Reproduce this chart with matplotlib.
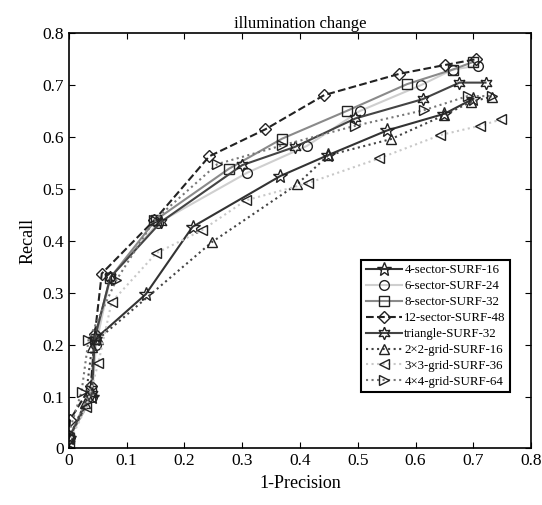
import matplotlib
matplotlib.use("Agg")
import matplotlib.pyplot as plt
from matplotlib.ticker import FuncFormatter

plt.rcParams["font.family"] = ["Liberation Serif", "DejaVu Serif"]

# 1-Precision (x) and Recall (y) for each descriptor
x_4sector = [0.0, 0.04, 0.045, 0.133, 0.214, 0.366, 0.448, 0.551, 0.650, 0.700]
y_4sector = [0.02, 0.10, 0.21, 0.297, 0.427, 0.525, 0.565, 0.613, 0.645, 0.674]

x_6sector = [0.0, 0.04, 0.047, 0.072, 0.155, 0.308, 0.412, 0.503, 0.609, 0.664, 0.708]
y_6sector = [0.02, 0.10, 0.20, 0.33, 0.435, 0.531, 0.583, 0.650, 0.700, 0.730, 0.738]

x_8sector = [0.0, 0.038, 0.045, 0.071, 0.150, 0.277, 0.369, 0.482, 0.585, 0.664, 0.700]
y_8sector = [0.02, 0.11, 0.21, 0.328, 0.440, 0.539, 0.597, 0.651, 0.702, 0.730, 0.745]

x_12sector = [0.0, 0.002, 0.038, 0.045, 0.057, 0.148, 0.243, 0.340, 0.442, 0.572, 0.651, 0.704]
y_12sector = [0.02, 0.055, 0.12, 0.22, 0.337, 0.440, 0.563, 0.615, 0.681, 0.722, 0.739, 0.750]

x_triangle = [0.0, 0.04, 0.045, 0.072, 0.160, 0.300, 0.391, 0.496, 0.612, 0.676, 0.721]
y_triangle = [0.02, 0.105, 0.215, 0.33, 0.437, 0.546, 0.581, 0.636, 0.673, 0.705, 0.705]

x_2x2 = [0.0, 0.028, 0.040, 0.050, 0.248, 0.395, 0.449, 0.557, 0.649, 0.696, 0.732]
y_2x2 = [0.02, 0.087, 0.195, 0.21, 0.398, 0.509, 0.565, 0.596, 0.642, 0.668, 0.678]

x_3x3 = [0.0, 0.03, 0.051, 0.074, 0.151, 0.231, 0.306, 0.413, 0.537, 0.643, 0.712, 0.748]
y_3x3 = [0.01, 0.08, 0.164, 0.282, 0.376, 0.421, 0.478, 0.511, 0.559, 0.604, 0.622, 0.634]

x_4x4 = [0.0, 0.022, 0.034, 0.082, 0.148, 0.257, 0.369, 0.496, 0.615, 0.690, 0.732]
y_4x4 = [0.03, 0.109, 0.209, 0.324, 0.440, 0.548, 0.584, 0.622, 0.652, 0.679, 0.679]

star6 = (6, 1, 0)
series = [
    (x_4sector, y_4sector, "4-sector-SURF-16", "#333333", "-", "*"),
    (x_6sector, y_6sector, "6-sector-SURF-24", "#cfcfcf", "-", "o"),
    (x_8sector, y_8sector, "8-sector-SURF-32", "#8a8a8a", "-", "s"),
    (x_12sector, y_12sector, "12-sector-SURF-48", "#222222", "--", "D"),
    (x_triangle, y_triangle, "triangle-SURF-32", "#444444", "-", star6),
    (x_2x2, y_2x2, "2\u00d72-grid-SURF-16", "#444444", ":", "^"),
    (x_3x3, y_3x3, "3\u00d73-grid-SURF-36", "#c8c8c8", ":", "<"),
    (x_4x4, y_4x4, "4\u00d74-grid-SURF-64", "#777777", ":", ">"),
]

fig = plt.figure(figsize=(5.42, 5.05), dpi=100)
ax = fig.add_axes([0.127, 0.112, 0.853, 0.822])

for xs, ys, label, color, ls, marker in series:
    ms = 7
    if marker == "*":
        ms = 10
    elif marker == star6:
        ms = 9
    elif marker == "D":
        ms = 6
    ax.plot(xs, ys, linestyle=ls, color=color, linewidth=1.5,
            marker=marker, markersize=ms, markerfacecolor="none",
            markeredgecolor="#222222", markeredgewidth=1.0, label=label)

ax.set_xlim(0, 0.8)
ax.set_ylim(0, 0.8)
ticks = [0, 0.1, 0.2, 0.3, 0.4, 0.5, 0.6, 0.7, 0.8]
ax.set_xticks(ticks)
ax.set_yticks(ticks)
fmt = FuncFormatter(lambda v, p: "0" if v == 0 else f"{v:.1f}")
ax.xaxis.set_major_formatter(fmt)
ax.yaxis.set_major_formatter(fmt)
ax.tick_params(direction="in", top=True, right=True, labelsize=12.5, length=4)
for sp in ax.spines.values():
    sp.set_linewidth(1.2)

ax.set_xlabel("1-Precision", fontsize=13)
ax.set_ylabel("Recall", fontsize=13)
ax.set_title("illumination change", fontsize=12, pad=4)

leg = ax.legend(loc="lower right", bbox_to_anchor=(0.955, 0.135), fontsize=9.3,
                handlelength=2.8, handletextpad=0.2, borderpad=0.35,
                labelspacing=0.3, fancybox=False, framealpha=1,
                edgecolor="black", borderaxespad=0.0)
leg.get_frame().set_linewidth(1.5)

fig.savefig("out.png", dpi=100)
